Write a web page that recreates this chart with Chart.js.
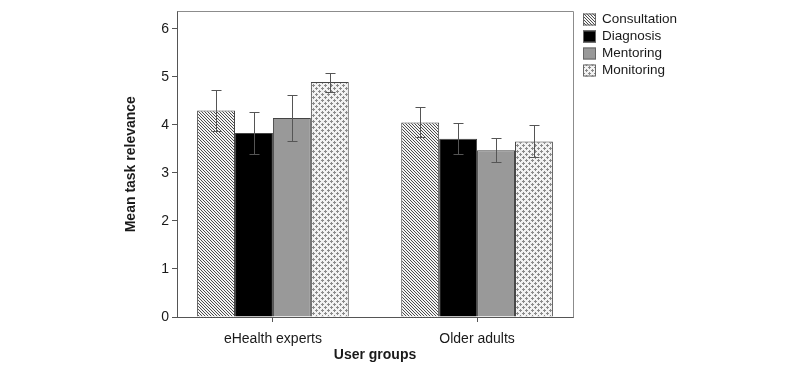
<!DOCTYPE html>
<html><head><meta charset="utf-8">
<script src="https://cdn.jsdelivr.net/npm/chart.js@4.4.1/dist/chart.umd.min.js"></script>
<style>html,body{margin:0;padding:0;background:#fff;}</style>
</head><body>
<canvas id="c" width="800" height="371" style="width:800px;height:371px;display:block"></canvas>
<script>
// ---- data ----
const categories = ['eHealth experts', 'Older adults'];
const seriesNames = ['Consultation', 'Diagnosis', 'Mentoring', 'Monitoring'];
const consultation     = [4.30, 4.05];
const consultationLow  = [3.87, 3.74];
const consultationHigh = [4.72, 4.38];
const diagnosis        = [3.83, 3.71];
const diagnosisLow     = [3.39, 3.39];
const diagnosisHigh    = [4.27, 4.03];
const mentoring        = [4.14, 3.47];
const mentoringLow     = [3.66, 3.22];
const mentoringHigh    = [4.63, 3.72];
const monitoring       = [4.89, 3.65];
const monitoringLow    = [4.68, 3.33];
const monitoringHigh   = [5.07, 3.99];
const yTicks = [0, 1, 2, 3, 4, 5, 6];
const yTitle = 'Mean task relevance';
const xTitle = 'User groups';

// ---- patterns ----
function makePattern(size, bg, draw) {
  const c = document.createElement('canvas');
  c.width = size; c.height = size;
  const g = c.getContext('2d');
  g.fillStyle = bg; g.fillRect(0, 0, size, size);
  draw(g);
  return document.getElementById('c').getContext('2d').createPattern(c, 'repeat');
}
const hatch = makePattern(3, '#f4f4f4', g => {
  g.fillStyle = '#4c4c4c';
  for (let i = 0; i < 3; i++) { g.fillRect(i, i, 1, 1); }
});
const dots = makePattern(6, '#f2f2f2', g => {
  g.fillStyle = '#8a8a8a';
  const pts = [[1,0],[0,1],[1,1],[2,1],[1,2],[4,3],[3,4],[4,4],[5,4],[4,5]];
  pts.forEach(p => g.fillRect(p[0], p[1], 1, 1));
});
const fills = [hatch, '#000000', '#999999', dots];

const seriesVals = [consultation, diagnosis, mentoring, monitoring];
const seriesLow = [consultationLow, diagnosisLow, mentoringLow, monitoringLow];
const seriesHigh = [consultationHigh, diagnosisHigh, mentoringHigh, monitoringHigh];

const datasets = seriesNames.map((name, s) => ({
  label: name,
  data: seriesVals[s].map((v, i) => ({ x: i, y: v })),
  errLow: seriesLow[s],
  errHigh: seriesHigh[s],
  backgroundColor: fills[s],
  borderColor: '#444444',
  borderWidth: 1,
  barPercentage: 1.0,
  categoryPercentage: 0.743
}));

const FONT = "'Liberation Sans', Arial, sans-serif";

const errorBars = {
  id: 'errorBars',
  afterDatasetsDraw(chart) {
    const ctx = chart.ctx, ys = chart.scales.y;
    ctx.save();
    ctx.strokeStyle = '#555555';
    ctx.lineWidth = 1;
    chart.data.datasets.forEach((ds, di) => {
      chart.getDatasetMeta(di).data.forEach((bar, i) => {
        const x = Math.round(bar.x) + 0.5;
        const yl = Math.round(ys.getPixelForValue(ds.errLow[i])) + 0.5;
        const yh = Math.round(ys.getPixelForValue(ds.errHigh[i])) + 0.5;
        ctx.beginPath();
        ctx.moveTo(x, yl); ctx.lineTo(x, yh);
        ctx.moveTo(x - 5, yl); ctx.lineTo(x + 5, yl);
        ctx.moveTo(x - 5, yh); ctx.lineTo(x + 5, yh);
        ctx.stroke();
      });
    });
    ctx.restore();
  }
};

const frame = {
  id: 'frame',
  afterDraw(chart) {
    const ctx = chart.ctx, a = chart.chartArea;
    ctx.save();
    ctx.strokeStyle = '#8c8c8c';
    ctx.lineWidth = 1;
    ctx.beginPath();
    ctx.moveTo(Math.round(a.left) + 0.5, Math.round(a.top) + 0.5);
    ctx.lineTo(Math.round(a.right) + 0.5, Math.round(a.top) + 0.5);
    ctx.lineTo(Math.round(a.right) + 0.5, Math.round(a.bottom) + 0.5);
    ctx.stroke();
    ctx.restore();
  }
};

const legendBox = {
  id: 'legendBox',
  afterDraw(chart) {
    const ctx = chart.ctx, a = chart.chartArea;
    ctx.save();
    ctx.font = '13.5px ' + FONT;
    ctx.textBaseline = 'middle';
    ctx.textAlign = 'left';
    chart.data.datasets.forEach((ds, i) => {
      const cy = 19.5 + i * 17;
      const bx = a.right + 10;
      ctx.fillStyle = ds.backgroundColor;
      ctx.fillRect(bx, cy - 6, 13, 12);
      ctx.strokeStyle = '#666666';
      ctx.lineWidth = 1;
      ctx.strokeRect(bx + 0.5, cy - 5.5, 12, 11);
      ctx.fillStyle = '#1a1a1a';
      ctx.fillText(ds.label, bx + 19, cy);
    });
    ctx.restore();
  }
};

new Chart(document.getElementById('c'), {
  type: 'bar',
  data: { datasets },
  plugins: [errorBars, frame, legendBox],
  options: {
    responsive: false,
    animation: false,
    layout: { padding: { left: 119, right: 227, top: 11, bottom: 3 } },
    plugins: { legend: { display: false }, tooltip: { enabled: false } },
    scales: {
      x: {
        type: 'linear',
        offset: false,
        min: -0.47, max: 1.47,
        afterBuildTicks(s) { s.ticks = categories.map((c, i) => ({ value: i })); },
        afterFit(s) { s.height = 51; },
        ticks: {
          callback: v => categories[v],
          color: '#1a1a1a',
          font: { family: FONT, size: 14 },
          padding: 9,
          maxRotation: 0, autoSkip: false
        },
        grid: { offset: false, drawOnChartArea: false, drawTicks: true, tickLength: 5, color: '#555555' },
        border: { color: '#555555' },
        title: { display: true, text: xTitle, color: '#1a1a1a', font: { family: FONT, size: 14, weight: 'bold' }, padding: { top: 4, bottom: 4 } }
      },
      y: {
        min: 0, max: 6.36,
        afterBuildTicks(s) { s.ticks = yTicks.map(v => ({ value: v })); },
        afterFit(s) { s.width = 58; },
        ticks: { color: '#1a1a1a', font: { family: FONT, size: 14 }, padding: 3 },
        grid: { drawOnChartArea: false, drawTicks: true, tickLength: 5, color: '#555555' },
        border: { color: '#555555' },
        title: { display: true, text: yTitle, color: '#1a1a1a', font: { family: FONT, size: 14, weight: 'bold' }, padding: { top: 4, bottom: 4 } }
      }
    }
  }
});
</script>
</body></html>
